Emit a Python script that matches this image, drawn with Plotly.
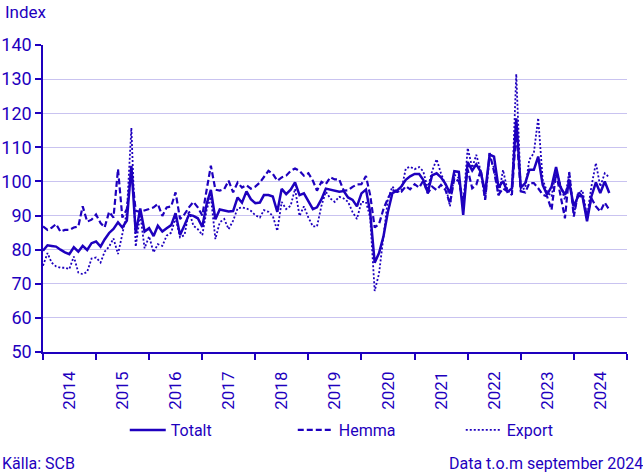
import plotly.graph_objects as go
import pandas as pd

start_month = "2014-01-01"
n_months = 129
months = pd.date_range(start_month, periods=n_months, freq="MS")

totalt = [
    79.7, 81.3, 81.1, 80.9, 80.0, 79.2, 78.7, 80.7, 79.4, 81.1, 79.9, 81.9,
    82.4, 80.9, 83.0, 84.9, 86.1, 88.0, 86.5, 88.5, 104.6, 84.8, 92.1, 85.3,
    86.3, 84.0, 87.0, 85.3, 86.3, 87.2, 90.7, 84.3, 87.2, 90.2, 89.9, 89.2,
    86.7, 93.6, 97.5, 88.9, 91.8, 91.5, 91.2, 91.3, 95.3, 93.8, 97.1, 94.8,
    93.6, 93.8, 96.0, 96.0, 95.6, 91.1, 97.8, 96.3, 97.6, 99.7, 96.0, 96.5,
    94.3, 91.9, 92.4, 94.8, 97.9, 97.6, 97.3, 97.0, 97.2, 95.3, 94.6, 92.7,
    96.5, 97.6, 91.0, 76.2, 79.0, 84.0, 91.1, 96.6, 97.3, 98.5, 100.5, 101.5,
    102.2, 102.2, 100.5, 96.8, 101.8, 102.4, 101.2, 99.3, 96.5, 103.0, 102.8, 90.2,
    105.7, 103.2, 105.0, 102.8, 96.7, 107.9, 107.3, 98.2, 100.1, 97.0, 97.9, 118.5,
    98.2, 99.5, 103.4, 103.4, 107.3, 99.0, 96.1, 98.5, 104.2, 98.3, 96.1, 99.5,
    92.7, 95.8, 95.6, 88.3, 95.6, 99.7, 96.6, 100.0, 96.6,
]

hemma = [
    86.8, 85.8, 86.4, 87.5, 85.3, 85.8, 85.8, 86.5, 86.8, 92.7, 88.2, 88.8,
    90.3, 87.8, 86.5, 91.1, 89.4, 103.6, 89.4, 91.9, 103.0, 91.4, 91.1, 91.4,
    91.9, 92.4, 93.4, 89.9, 92.4, 92.7, 96.8, 89.0, 90.4, 92.4, 94.0, 92.4,
    90.0, 97.8, 104.6, 97.6, 97.3, 97.8, 100.2, 96.8, 99.7, 98.2, 98.9, 97.9,
    98.5, 99.7, 101.2, 103.1, 102.2, 100.2, 101.2, 101.7, 103.1, 103.8, 103.1, 101.7,
    102.4, 100.2, 97.3, 99.9, 99.2, 101.2, 100.6, 100.6, 97.3, 97.4, 98.4, 99.1,
    99.2, 101.6, 96.0, 86.5, 87.5, 92.0, 95.0, 97.5, 96.9, 96.9, 98.6, 97.7,
    99.2, 98.2, 100.2, 96.5, 98.5, 97.5, 99.0, 97.5, 93.5, 101.0, 100.0, 94.0,
    103.5, 98.0, 99.0, 103.4, 94.6, 108.3, 103.0, 96.1, 98.0, 97.0, 96.1, 115.0,
    97.1, 96.8, 99.5, 99.5, 98.0, 96.1, 95.6, 91.7, 102.5, 96.0, 89.2, 102.4,
    89.7, 97.0, 95.6, 89.7, 95.1, 92.7, 91.2, 93.8, 91.7,
]

export = [
    75.3, 79.0, 76.2, 75.1, 74.7, 74.7, 74.3, 78.0, 73.3, 72.8, 73.5, 77.4,
    77.7, 76.2, 79.4, 80.9, 83.3, 78.7, 84.6, 90.9, 115.7, 80.9, 90.4, 80.4,
    83.9, 79.2, 81.6, 81.1, 84.1, 85.0, 89.4, 83.6, 84.3, 91.4, 87.0, 86.0,
    84.3, 91.9, 95.5, 83.1, 88.0, 89.0, 86.0, 88.5, 92.1, 92.4, 92.1, 91.4,
    90.1, 89.4, 91.6, 91.1, 89.9, 85.5, 94.0, 91.9, 92.9, 97.8, 89.9, 92.7,
    89.4, 86.8, 86.8, 92.9, 97.0, 95.0, 94.0, 95.5, 95.0, 94.0, 91.0, 89.0,
    94.0, 94.0, 89.5, 67.9, 73.0, 85.0, 94.8, 98.5, 96.8, 97.4, 103.8, 104.3,
    103.6, 104.2, 103.0, 98.0, 103.0, 106.5, 102.4, 99.0, 92.7, 102.0, 101.0, 93.0,
    109.8, 104.0, 107.8, 103.0, 94.6, 107.3, 104.0, 95.6, 103.4, 97.5, 96.1, 131.5,
    97.6, 98.0, 106.4, 108.3, 118.6, 100.5, 97.0, 95.6, 103.4, 99.0, 94.6, 103.0,
    90.2, 96.6, 97.4, 89.7, 98.5, 105.4, 98.5, 102.4, 101.2,
]

y_ticks = [50, 60, 70, 80, 90, 100, 110, 120, 130, 140]

BLUE = "#1e00be"
GRID = "#c9c3f0"
FONT = "Roboto"

fig = go.Figure()
fig.add_trace(go.Scatter(x=months, y=totalt, name="Totalt", mode="lines",
                         line=dict(color=BLUE, width=2.5)))
fig.add_trace(go.Scatter(x=months, y=hemma, name="Hemma", mode="lines",
                         line=dict(color=BLUE, width=2.2, dash="6px,3px")))
fig.add_trace(go.Scatter(x=months, y=export, name="Export", mode="lines",
                         line=dict(color=BLUE, width=1.8, dash="2px,2px")))

fig.update_layout(
    width=643, height=475,
    margin=dict(l=43, r=16, t=45, b=123),
    paper_bgcolor="white", plot_bgcolor="white",
    font=dict(family=FONT, size=16, color=BLUE),
    showlegend=True,
    legend=dict(orientation="h", x=0.14, xanchor="left", y=-0.254, yanchor="middle",
                bgcolor="rgba(0,0,0,0)",
                font=dict(family=FONT, size=16, color=BLUE),
                itemwidth=36, entrywidth=117, traceorder="normal"),
    xaxis=dict(
        type="date",
        range=["2014-01-01", "2025-01-01"],
        dtick="M12", tick0="2014-01-01",
        tickformat="%Y", ticklabelmode="period",
        tickangle=-90, automargin=False, ticklabelstandoff=5,
        showgrid=False, zeroline=False,
        showline=True, linecolor=BLUE, linewidth=1.5,
        ticks="outside", ticklen=6, tickcolor=BLUE, tickwidth=1.5,
        tickfont=dict(family=FONT, size=17, color=BLUE),
    ),
    yaxis=dict(
        range=[50, 140], tickvals=y_ticks, automargin=False,
        showgrid=True, gridcolor=GRID, gridwidth=1,
        zeroline=False,
        showline=True, linecolor=BLUE, linewidth=1.5,
        ticks="outside", ticklen=6, tickcolor=BLUE, tickwidth=1.5,
        tickfont=dict(family=FONT, size=18, color=BLUE),
    ),
    annotations=[
        dict(text="Index", xref="paper", yref="paper", x=-0.0685, y=1.107,
             xanchor="left", yanchor="middle", showarrow=False,
             font=dict(family=FONT, size=17, color=BLUE)),
        dict(text="Källa: SCB", xref="paper", yref="paper", x=-0.0736, y=-0.3616,
             xanchor="left", yanchor="middle", showarrow=False,
             font=dict(family=FONT, size=16, color=BLUE)),
        dict(text="Data t.o.m september 2024", xref="paper", yref="paper", x=1.03, y=-0.3616,
             xanchor="right", yanchor="middle", showarrow=False,
             font=dict(family=FONT, size=16, color=BLUE)),
    ],
)

fig.write_html("out.html", config={"displayModeBar": False},
               post_script="document.body.style.margin='0';document.body.style.overflow='hidden';")
